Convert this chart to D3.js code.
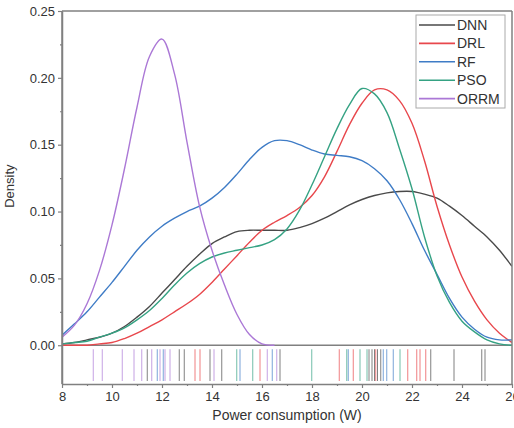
<!DOCTYPE html>
<html>
<head>
<meta charset="utf-8">
<script src="https://cdn.jsdelivr.net/npm/d3@7"></script>
<style>
  body { margin: 0; background: #fff; }
  text { font-family: "Liberation Sans", Arial, sans-serif; fill: #333; }
</style>
</head>
<body>
<svg id="chart" width="514" height="428"></svg>
<script>
// density sample grid (W)
var grid = [8, 8.5, 9, 9.5, 10, 10.5, 11, 11.5, 12, 12.5, 13, 13.5, 14, 14.5, 15, 15.5, 16, 16.5, 17, 17.5,
  18, 18.5, 19, 19.5, 20, 20.5, 21, 21.5, 22, 22.5, 23, 23.5, 24, 24.5, 25, 25.5, 26];

var dnn = [0.001, 0.002, 0.004, 0.006, 0.009, 0.014, 0.021, 0.029, 0.039, 0.049, 0.059, 0.068, 0.076, 0.081, 0.085, 0.086, 0.086, 0.086, 0.086, 0.088,
  0.091, 0.095, 0.100, 0.105, 0.109, 0.112, 0.114, 0.115, 0.115, 0.113, 0.110, 0.104, 0.097, 0.089, 0.081, 0.071, 0.059];
var drl = [0, 0, 0, 0.001, 0.002, 0.005, 0.009, 0.014, 0.019, 0.025, 0.031, 0.038, 0.047, 0.057, 0.067, 0.077, 0.086, 0.092, 0.097, 0.103,
  0.112, 0.126, 0.145, 0.165, 0.181, 0.191, 0.191, 0.183, 0.166, 0.138, 0.104, 0.075, 0.051, 0.033, 0.019, 0.009, 0.002];
var rf = [0.0075, 0.016, 0.025, 0.036, 0.047, 0.059, 0.071, 0.081, 0.089, 0.095, 0.100, 0.104, 0.110, 0.118, 0.128, 0.139, 0.148, 0.153, 0.153, 0.150,
  0.146, 0.143, 0.142, 0.141, 0.138, 0.132, 0.123, 0.109, 0.091, 0.071, 0.053, 0.035, 0.021, 0.012, 0.006, 0.004, 0.004];
var pso = [0.001, 0.002, 0.003, 0.006, 0.009, 0.013, 0.019, 0.026, 0.035, 0.045, 0.054, 0.061, 0.066, 0.069, 0.071, 0.073, 0.075, 0.079, 0.087, 0.101,
  0.120, 0.141, 0.162, 0.180, 0.192, 0.188, 0.174, 0.147, 0.117, 0.081, 0.052, 0.032, 0.018, 0.010, 0.004, 0.001, 0];
var orrm = [0.006, 0.015, 0.031, 0.056, 0.090, 0.132, 0.178, 0.216, 0.229, 0.203, 0.152, 0.104, 0.071, 0.045, 0.023, 0.008, 0.001, 0, null, null,
  null, null, null, null, null, null, null, null, null, null, null, null, null, null, null, null, null];

// rug (individual observations)
var rugDnn = [11.41, 12.69, 12.89, 13.92, 14.39, 16.72, 20.28, 20.4, 20.5, 20.62, 20.75, 22.75, 23.68, 24.79, 24.92];
var rugDrl = [13.32, 13.52, 15.92, 19.09, 19.65, 20.55, 21.83, 22.19, 22.32, 22.55];
var rugRf = [11.81, 12.05, 15.12, 16.41, 19.45, 20.85, 20.99, 21.25];
var rugPso = [14.99, 15.63, 17.99, 19.39, 19.92, 20.2, 21.52];
var rugOrrm = [9.25, 9.61, 10.41, 10.88, 11.19, 11.59, 11.92, 12.12, 12.32, 14.08, 16.21, 16.59];

var names = ["DNN", "DRL", "RF", "PSO", "ORRM"];
var colors = ["#4a4a4a", "#e8474c", "#3f7cc6", "#35a283", "#ab78d6"];
var xTicks = [8, 10, 12, 14, 16, 18, 20, 22, 24, 26];
var yTicks = [0, 0.05, 0.10, 0.15, 0.20, 0.25];

var series = [dnn, drl, rf, pso, orrm];
var rugs = [rugDnn, rugDrl, rugRf, rugPso, rugOrrm];

var svg = d3.select('#chart');
var margin = {top: 11, right: 2, bottom: 44, left: 62};
var width = 514 - margin.left - margin.right;
var height = 428 - margin.top - margin.bottom;
var axisColor = '#808080';

var x = d3.scaleLinear().domain([8, 26]).range([0, width]);
var y = d3.scaleLinear().domain([-0.029, 0.25]).range([height, 0]);

var g = svg.append('g')
  .attr('transform', 'translate(' + margin.left + ',' + margin.top + ')');

svg.append('defs').append('clipPath').attr('id', 'plot-clip')
  .append('rect').attr('width', width).attr('height', height);

// rug marks
var rugTop = y(0) + 4, rugBottom = height - 3;
var rugG = g.append('g').attr('clip-path', 'url(#plot-clip)');
rugs.forEach(function(vals, i) {
  rugG.selectAll('.rug-' + i)
    .data(vals)
    .enter().append('line')
    .attr('x1', function(d) { return x(d); })
    .attr('x2', function(d) { return x(d); })
    .attr('y1', rugTop)
    .attr('y2', rugBottom)
    .attr('stroke', colors[i])
    .attr('stroke-opacity', 0.7)
    .attr('stroke-width', 1);
});

// zero line
g.append('line')
  .attr('x1', 0).attr('x2', width)
  .attr('y1', y(0)).attr('y2', y(0))
  .attr('stroke', axisColor).attr('stroke-width', 1.5);

// density curves
var line = d3.line()
  .defined(function(d) { return d[1] != null; })
  .x(function(d) { return x(d[0]); })
  .y(function(d) { return y(d[1]); })
  .curve(d3.curveCatmullRom.alpha(0.5));

var curves = g.append('g').attr('clip-path', 'url(#plot-clip)');
series.forEach(function(vals, i) {
  var pts = grid.map(function(v, j) { return [v, vals[j]]; });
  curves.append('path')
    .datum(pts)
    .attr('d', line)
    .attr('fill', 'none')
    .attr('stroke', colors[i])
    .attr('stroke-width', 1.4);
});

// frame (top + right)
g.append('line').attr('x1', 0).attr('x2', width).attr('y1', 0).attr('y2', 0)
  .attr('stroke', axisColor).attr('stroke-width', 1.5);
g.append('line').attr('x1', width).attr('x2', width).attr('y1', 0).attr('y2', height)
  .attr('stroke', axisColor).attr('stroke-width', 1.5);

// y axis
var yAxis = g.append('g')
  .call(d3.axisLeft(y).tickValues(yTicks).tickFormat(d3.format('.2f')).tickSize(4).tickSizeOuter(0));
g.append('g')
  .call(d3.axisLeft(y).tickValues([0.025, 0.075, 0.125, 0.175, 0.225]).tickFormat('').tickSize(2).tickSizeOuter(0))
  .call(function(s) { s.select('.domain').remove(); });
g.append('line').attr('x1', 0).attr('x2', 0).attr('y1', 0).attr('y2', height)
  .attr('stroke', axisColor).attr('stroke-width', 1.5);

// x axis
var xAxis = g.append('g')
  .attr('transform', 'translate(0,' + height + ')')
  .call(d3.axisBottom(x).tickValues(xTicks).tickFormat(d3.format('d')).tickSize(4).tickSizeOuter(0));
g.append('g')
  .attr('transform', 'translate(0,' + height + ')')
  .call(d3.axisBottom(x).tickValues([9, 11, 13, 15, 17, 19, 21, 23, 25]).tickFormat('').tickSize(2).tickSizeOuter(0))
  .call(function(s) { s.select('.domain').remove(); });

g.selectAll('.domain').attr('stroke', axisColor).attr('stroke-width', 1.5);
g.selectAll('.tick line').attr('stroke', axisColor).attr('stroke-width', 1.2);
g.selectAll('.tick text')
  .style('font-family', '"Liberation Sans", Arial, sans-serif')
  .style('font-size', '13px')
  .attr('fill', '#333');
yAxis.selectAll('.tick text').attr('x', -7);
xAxis.selectAll('.tick text').attr('y', 8);

// axis titles
g.append('text')
  .attr('x', width / 2)
  .attr('y', height + 36)
  .attr('text-anchor', 'middle')
  .style('font-size', '14px')
  .text('Power consumption (W)');

g.append('text')
  .attr('transform', 'translate(' + (-48) + ',' + (y(0.125) + 8) + ') rotate(-90)')
  .attr('text-anchor', 'middle')
  .style('font-size', '13px')
  .text('Density');

// legend
var legend = g.append('g').attr('transform', 'translate(354,4)');
legend.append('rect')
  .attr('width', 89).attr('height', 93)
  .attr('fill', '#fff')
  .attr('stroke', '#aaa').attr('stroke-width', 1);
names.forEach(function(name, i) {
  var row = legend.append('g').attr('transform', 'translate(0,' + (10 + i * 18.4) + ')');
  row.append('line')
    .attr('x1', 3).attr('x2', 39)
    .attr('stroke', colors[i]).attr('stroke-width', 1.6);
  row.append('text')
    .attr('x', 41).attr('y', 5)
    .style('font-size', '14px')
    .text(name);
});
</script>
</body>
</html>
